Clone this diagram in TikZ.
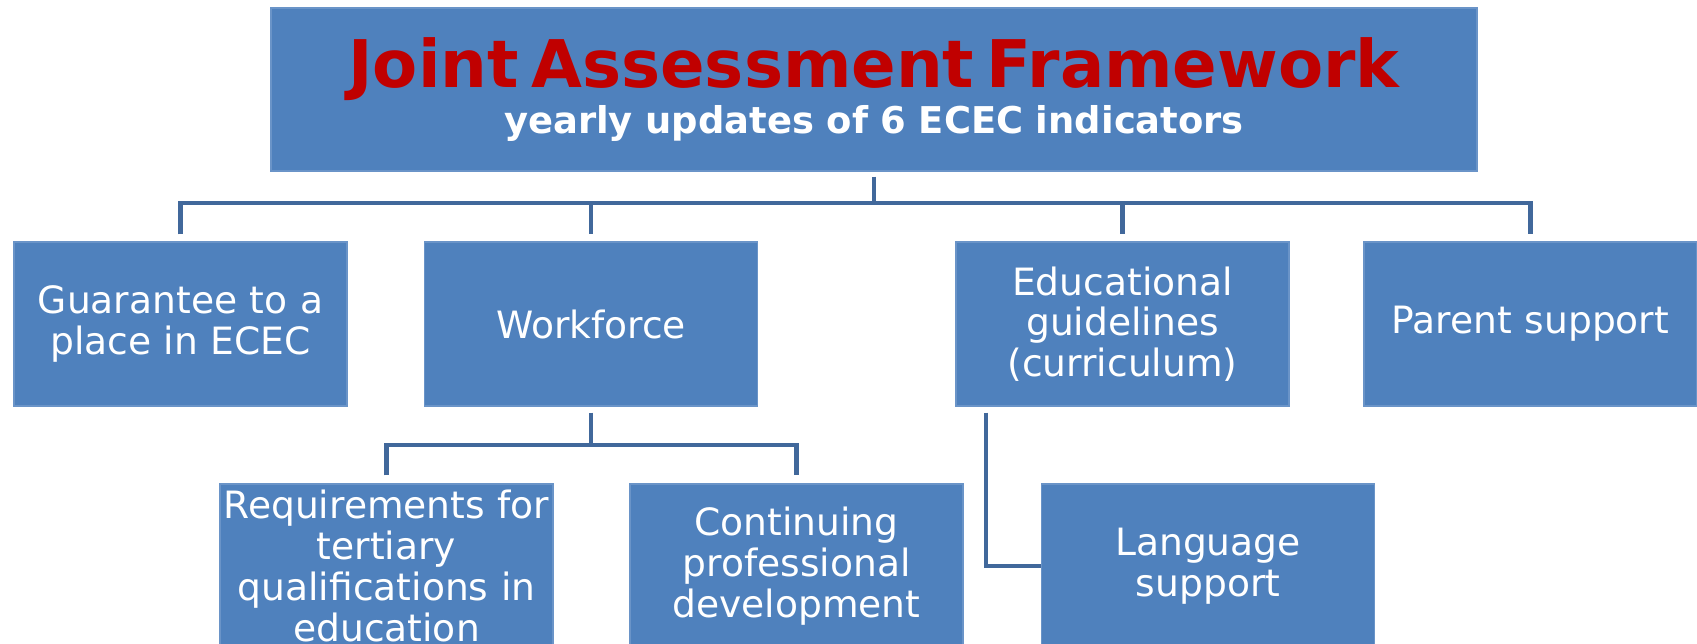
\documentclass[tikz,border=0pt]{standalone}
\usepackage{fontspec}
\setmainfont{DejaVu Sans}
\usepackage{xcolor}
\usepackage{tikz}
\usetikzlibrary{positioning, calc}

\definecolor{boxblue}{HTML}{4F81BD}
\definecolor{boxedge}{HTML}{6A94C8}
\definecolor{linkblue}{HTML}{41689B}
\definecolor{titlered}{HTML}{C00000}

\tikzset{
  ecbox/.style={fill=boxblue, draw=boxedge, line width=0.4pt, text=white,
    minimum width=3.33cm, minimum height=1.64cm, text width=3.33cm,
    inner sep=0pt, align=center, font=\fontsize{10.7pt}{11.6pt}\selectfont},
  link/.style={draw=linkblue, line width=1.2pt}
}

\begin{document}
\begin{tikzpicture}
\useasboundingbox (0,0) rectangle (16.97,6.44);

% Framework box
\node[ecbox, minimum width=12.06cm, minimum height=1.63cm, text width=12cm] (jaf) at (8.74,5.545)
  {{\fontsize{18.7pt}{20pt}\selectfont\bfseries\color{titlered}Joint Assessment Framework}\\[0.5pt]
   {\fontsize{10.5pt}{12pt}\selectfont\bfseries yearly updates of 6 ECEC indicators}};

% Indicators
\node[ecbox] (guar) at (1.805,3.20) {Guarantee to a\\place in ECEC};
\node[ecbox] (work) at (5.91,3.20) {Workforce};
\node[ecbox] (educ) at (11.225,3.20) {Educational\\guidelines\\(curriculum)};
\node[ecbox] (par) at (15.305,3.20) {Parent support};

% Sub-indicators
\node[ecbox] (req) at (3.865,0.78) {Requirements for\\tertiary\\qualifications in\\education};
\node[ecbox] (cpd) at (7.965,0.78) {Continuing\\professional\\development};
\node[ecbox] (lang) at (12.08,0.78) {Language\\support};

% Top links
\draw[link] ([yshift=-0.05cm]jaf.south) -- ++(0,-0.26) coordinate (bus);
\draw[link] ([yshift=0.07cm]guar.north) |- (bus) -| ([yshift=0.07cm]par.north);
\foreach \n in {work, educ} {
    \draw[link] (bus -| \n.north) -- ([yshift=0.07cm]\n.north);
}

% Workforce links
\draw[link] ([yshift=-0.06cm]work.south) -- ++(0,-0.32) coordinate (wbus);
\draw[link] ([yshift=0.08cm]req.north) |- (wbus) -| ([yshift=0.08cm]cpd.north);

% Curriculum link
\draw[link] ([xshift=0.31cm,yshift=-0.06cm]educ.south west) |- (lang.west);

\end{tikzpicture}
\end{document}
